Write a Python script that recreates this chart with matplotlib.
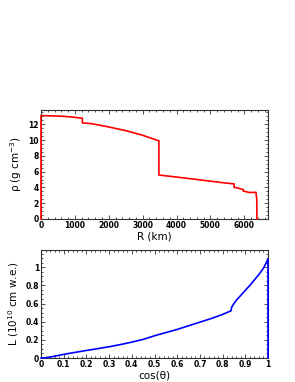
import matplotlib
matplotlib.use("Agg")
import matplotlib.pyplot as plt
from matplotlib.ticker import MultipleLocator

plt.rcParams["mathtext.default"] = "regular"

# Density profile (radius km, density g/cm^3)
radius_km = [0, 0, 300, 600, 900, 1221, 1221, 1500, 2000, 2500, 3000, 3480,
             3480, 4000, 4500, 5000, 5400, 5701, 5701, 5771, 5971, 5971,
             6151, 6346, 6356, 6368, 6371, 6371]
density = [0, 13.09, 13.06, 13.01, 12.92, 12.76, 12.17, 12.07, 11.65, 11.19,
           10.60, 9.90, 5.57, 5.31, 5.06, 4.79, 4.58, 4.44, 3.99, 3.97, 3.72,
           3.54, 3.36, 3.37, 2.90, 2.60, 1.02, 0]

# Column depth vs cos(theta)
cos_theta = [0, 0.02, 0.05, 0.1, 0.15, 0.2, 0.25, 0.3, 0.35, 0.4, 0.45, 0.5,
             0.55, 0.6, 0.65, 0.7, 0.75, 0.8, 0.837, 0.84, 0.85, 0.86, 0.88,
             0.9, 0.92, 0.94, 0.96, 0.98, 1.0, 1.0]
column_depth = [0, 0.003, 0.015, 0.04, 0.062, 0.083, 0.103, 0.124, 0.148,
                0.175, 0.205, 0.245, 0.28, 0.315, 0.355, 0.395, 0.435, 0.48,
                0.52, 0.56, 0.60, 0.635, 0.69, 0.745, 0.80, 0.86, 0.92, 0.99,
                1.09, 0]

W, H = 295, 382
fig = plt.figure(figsize=(W / 100, H / 100), dpi=100)

def frac(x0, y0, x1, y1):
    return [x0 / W, 1 - y1 / H, (x1 - x0) / W, (y1 - y0) / H]

ax1 = fig.add_axes(frac(41, 110, 268, 219))
ax2 = fig.add_axes(frac(41, 250, 268, 358))

ax1.plot(radius_km, density, color="red", lw=1.2, clip_on=False, zorder=5)
ax1.set_xlim(0, 6700)
ax1.set_ylim(0, 13.8)
ax1.xaxis.set_major_locator(MultipleLocator(1000))
ax1.xaxis.set_minor_locator(MultipleLocator(200))
ax1.yaxis.set_major_locator(MultipleLocator(2))
ax1.yaxis.set_minor_locator(MultipleLocator(0.5))
ax1.set_xlabel("R (km)", fontsize=7.5, labelpad=1)
ax1.set_ylabel("ρ (g cm$^{-3}$)", fontsize=7.5, labelpad=3)

ax2.plot(cos_theta, column_depth, color="blue", lw=1.2, clip_on=False, zorder=5)
ax2.set_xlim(0, 1)
ax2.set_ylim(0, 1.19)
ax2.xaxis.set_minor_locator(MultipleLocator(0.02))
ax2.yaxis.set_minor_locator(MultipleLocator(0.05))
ax2.set_xticks([0, 0.1, 0.2, 0.3, 0.4, 0.5, 0.6, 0.7, 0.8, 0.9, 1.0])
ax2.set_xticklabels(["0", "0.1", "0.2", "0.3", "0.4", "0.5", "0.6", "0.7",
                     "0.8", "0.9", "1"])
ax2.set_yticks([0, 0.2, 0.4, 0.6, 0.8, 1.0])
ax2.set_yticklabels(["0", "0.2", "0.4", "0.6", "0.8", "1"])
ax2.set_xlabel("cos(θ)", fontsize=7.5, labelpad=1)
ax2.set_ylabel("L (10$^{10}$ cm w.e.)", fontsize=7.5, labelpad=3)

for ax in (ax1, ax2):
    for s in ax.spines.values():
        s.set_linewidth(0.8)
        s.set_color("#333333")
    ax.tick_params(which="both", direction="in", top=True, right=True,
                   labelsize=5.5, pad=1.5, width=0.6, color="#333333")
    ax.tick_params(which="major", length=3)
    ax.tick_params(which="minor", length=1.5)
    for lab in ax.get_xticklabels() + ax.get_yticklabels():
        lab.set_fontweight("bold")

fig.savefig("out.png", dpi=100)
